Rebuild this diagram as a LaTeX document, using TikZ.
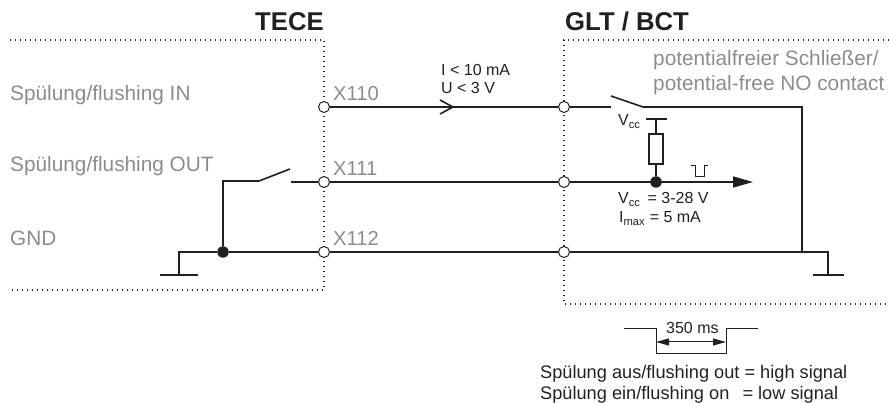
\documentclass[tikz,border=0pt]{standalone}
\usepackage{fontspec}
\setmainfont{Liberation Sans}
\usetikzlibrary{arrows.meta}
\definecolor{wirecol}{HTML}{231F20}
\definecolor{labelcol}{HTML}{8A8C8E}
\tikzset{
    wire/.style={draw=wirecol, line width=1.6pt},
    frame/.style={draw=wirecol, line width=1.2pt, dash pattern=on 1.3pt off 3.7pt},
    terminal/.style={circle, draw=wirecol, fill=white, line width=1pt, minimum size=11pt, inner sep=0pt},
    junction/.style={circle, fill=wirecol, minimum size=11.5pt, inner sep=0pt},
    resistor/.style={rectangle, draw=wirecol, fill=white, line width=1.1pt, minimum width=14pt, minimum height=30pt, inner sep=0pt},
    graylabel/.style={anchor=base west, inner sep=0pt, text=labelcol, font=\fontsize{20.8}{24}\selectfont},
    pinlabel/.style={anchor=base west, inner sep=0pt, text=labelcol, font=\fontsize{20.2}{24}\selectfont},
    smalllabel/.style={anchor=base west, inner sep=0pt, text=wirecol, font=\fontsize{16}{20}\selectfont},
    infolabel/.style={anchor=base west, inner sep=0pt, text=wirecol, font=\fontsize{18.2}{20}\selectfont},
    titlelabel/.style={anchor=base west, inner sep=0pt, text=wirecol, font=\fontsize{25.7}{28}\selectfont\bfseries},
}
\begin{document}
\begin{tikzpicture}[x=1pt,y=-1pt]
    \useasboundingbox (0,0) rectangle (889,403);

    \draw[frame] (10,40) -- (324,40) -- (324,290) -- (10,290);
    \draw[frame] (889,40) -- (564,40) -- (564,304) -- (889,304);

    \node[titlelabel] (tece) at (255,31) {TECE};
    \node[titlelabel] (glt) at (565,31) {GLT / BCT};

    \node[graylabel] (in) at (10,101) {Spülung/flushing IN};
    \node[graylabel] (out) at (10,172) {Spülung/flushing OUT};
    \node[graylabel] (gnd) at (10,246) {GND};
    \node[graylabel] (nofirst) at (653,66) {potentialfreier Schließer/};
    \node[graylabel] (nosecond) at (653,91) {potential-free NO contact};

    \foreach \name/\y in {110/107,111/182,112/252} {
        \node[terminal] (a\name) at (324,\y) {};
        \node[terminal] (b\name) at (564,\y) {};
        \node[pinlabel] (l\name) at (333,\y-6.5) {X\name};
    }

    % switch and contact on the upper line
    \coordinate (swa) at (611,107);
    \coordinate (swtip) at (611,96);
    \coordinate (swb) at (643,107);
    \coordinate (corner) at (802,107);
    \coordinate (tee) at (802,252);
    \draw[wire] (a110) -- (b110);
    \draw[wire] (b110) -- (swa);
    \draw[wire] (swtip) -- (swb) -- (corner) -- (tee);
    \draw[wire] (440,100) -- (453,107) -- (440,114);
    \node[smalllabel] (imax) at (441,76) {I < 10 mA};
    \node[smalllabel] (umax) at (441,94) {U < 3 V};

    % pull-up and output
    \node[junction] (sense) at (656,182) {};
    \node[resistor] (pullup) at (656,149) {};
    \coordinate (vcc) at (656,119);
    \coordinate (outend) at (753,182);
    \draw[wire] (a111) -- (b111);
    \draw[wire, -{Triangle[length=20pt,width=11pt]}] (b111) -- (outend);
    \draw[wire] (sense) -- (pullup) -- (vcc);
    \draw[wire] (646,119) -- (667,119);
    \draw[wire, line width=1pt] (691,166) -- (695,166) -- (695,177) -- (704,177) -- (704,166) -- (708,166);
    \node[smalllabel] (vcclabel) at (618,126) {V\textsubscript{cc}};
    \node[smalllabel] (vccrange) at (618,204) {V\textsubscript{cc}\, = 3-28 V};
    \node[smalllabel] (imaxlabel) at (619,223) {I\textsubscript{max} = 5 mA};

    % left switch and grounds
    \node[junction] (gnddot) at (223,252) {};
    \coordinate (gndl) at (179,252);
    \coordinate (gndlb) at (179,275);
    \coordinate (gndr) at (828,252);
    \coordinate (gndrb) at (828,275);
    \draw[wire] (gndlb) -- (gndl) -- (gnddot) -- (a112) -- (b112) -- (tee) -- (gndr) -- (gndrb);
    \draw[wire, line width=1.8pt] (160,275) -- (198,275);
    \draw[wire, line width=1.8pt] (813,275) -- (844,275);
    \draw[wire] (gnddot) -- (223,181) -- (259,181) -- (290,169);
    \draw[wire] (291,182) -- (a111);

    % pulse at the bottom
    \draw[wire, line width=1pt] (624,329) -- (656,329) -- (656,353) -- (726,353) -- (726,329) -- (758,329);
    \draw[wire, line width=1pt, {Triangle[length=13pt,width=7pt]}-{Triangle[length=13pt,width=7pt]}] (656,342) -- (726,342);
    \node[smalllabel] (pulse) at (666,334) {350 ms};
    \node[infolabel] (high) at (540,378) {Spülung aus/flushing out = high signal};
    \node[infolabel] (low) at (540,399) {Spülung ein/flushing on \ \,= low signal};

\end{tikzpicture}
\end{document}
